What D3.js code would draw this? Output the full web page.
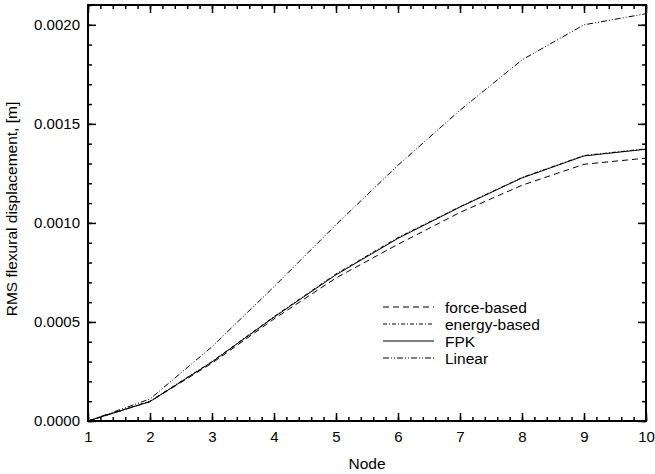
<!DOCTYPE html>
<html>
<head>
<meta charset="utf-8">
<script src="https://cdn.jsdelivr.net/npm/d3@7"></script>
<style>
  body { margin: 0; background: #fff; }
  svg { display: block; font-family: "Liberation Sans", Arial, sans-serif; }
  .axis path { display: none; }
  .axis line { stroke: #000; stroke-width: 1.5; }
  .axis text { font-size: 15px; fill: #000; }
</style>
</head>
<body>
<svg id="svg" width="655" height="474"></svg>
<script>
const nodes = [1, 2, 3, 4, 5, 6, 7, 8, 9, 10]
const forceBased  = [0, 0.000098, 0.000292, 0.000515, 0.000722, 0.000892, 0.001053, 0.001190, 0.001296, 0.001327]
const energyBased = [0, 0.000100, 0.000300, 0.000527, 0.000742, 0.000926, 0.001082, 0.001229, 0.001340, 0.001374]
const fpk         = [0, 0.000098, 0.000298, 0.000524, 0.000738, 0.000922, 0.001080, 0.001227, 0.001338, 0.001372]
const linear      = [0, 0.000111, 0.000375, 0.000678, 0.000991, 0.001291, 0.001569, 0.001823, 0.002000, 0.002056]
const yTicks = [0, 0.0005, 0.0010, 0.0015, 0.0020]

const series = [
    { name: 'force-based', values: forceBased, dash: '6,4' },
    { name: 'energy-based', values: energyBased, dash: '4,2,1,2' },
    { name: 'FPK', values: fpk, dash: null },
    { name: 'Linear', values: linear, dash: '6,2,1,2,1,2' }
]

const margin = { top: 5, right: 9, bottom: 53, left: 88 }
const W = 655 - margin.left - margin.right
const H = 474 - margin.top - margin.bottom

const svg = d3.select('#svg')
const g = svg.append('g').attr('transform', `translate(${margin.left},${margin.top})`)

const x = d3.scaleLinear().domain([1, 10]).range([0, W])
const y = d3.scaleLinear().domain([0, 0.0021]).range([H, 0])

const xMinor = d3.range(1, 10.001, 0.2)
const yMinor = d3.range(0, 0.00210001, 0.0001)

// minor ticks
g.append('g').attr('class', 'axis').attr('transform', `translate(0,${H})`)
    .call(d3.axisBottom(x).tickValues(xMinor).tickSize(-4).tickFormat(''))
g.append('g').attr('class', 'axis')
    .call(d3.axisTop(x).tickValues(xMinor).tickSize(-4).tickFormat(''))
g.append('g').attr('class', 'axis')
    .call(d3.axisLeft(y).tickValues(yMinor).tickSize(-4).tickFormat(''))
g.append('g').attr('class', 'axis').attr('transform', `translate(${W},0)`)
    .call(d3.axisRight(y).tickValues(yMinor).tickSize(-4).tickFormat(''))

// major ticks
g.append('g').attr('class', 'axis').attr('transform', `translate(0,${H})`)
    .call(d3.axisBottom(x).tickValues(nodes).tickSize(-8).tickPadding(10).tickFormat(d3.format('d')))
g.append('g').attr('class', 'axis')
    .call(d3.axisTop(x).tickValues(nodes).tickSize(-8).tickFormat(''))
g.append('g').attr('class', 'axis')
    .call(d3.axisLeft(y).tickValues(yTicks).tickSize(-8).tickPadding(8).tickFormat(d3.format('.4f')))
g.append('g').attr('class', 'axis').attr('transform', `translate(${W},0)`)
    .call(d3.axisRight(y).tickValues(yTicks).tickSize(-8).tickFormat(''))

// frame
g.append('rect')
    .attr('width', W).attr('height', H)
    .attr('fill', 'none').attr('stroke', '#000').attr('stroke-width', 2)

const line = d3.line().x((d, i) => x(nodes[i])).y(d => y(d))

g.selectAll('.series')
    .data(series)
    .enter()
    .append('path')
    .attr('class', 'series')
    .attr('d', d => line(d.values))
    .attr('fill', 'none')
    .attr('stroke', '#000')
    .attr('stroke-width', 1)
    .attr('stroke-dasharray', d => d.dash)

// legend
const legend = svg.append('g').attr('transform', 'translate(383,307)')
const rows = legend.selectAll('g')
    .data(series)
    .enter()
    .append('g')
    .attr('transform', (d, i) => `translate(0,${i * 17})`)
rows.append('line')
    .attr('x1', 0).attr('x2', 51).attr('y1', 0).attr('y2', 0)
    .attr('stroke', '#000').attr('stroke-width', 1)
    .attr('stroke-dasharray', d => d.dash)
rows.append('text')
    .attr('x', 62).attr('y', 5.5)
    .style('font-size', '15.5px')
    .text(d => d.name)

// axis titles
svg.append('text')
    .attr('x', margin.left + W / 2).attr('y', 469)
    .attr('text-anchor', 'middle')
    .style('font-size', '15.5px')
    .text('Node')
svg.append('text')
    .attr('transform', `translate(17,${margin.top + H / 2 - 4}) rotate(-90)`)
    .attr('text-anchor', 'middle')
    .style('font-size', '15.5px')
    .text('RMS flexural displacement, [m]')
</script>
</body>
</html>
